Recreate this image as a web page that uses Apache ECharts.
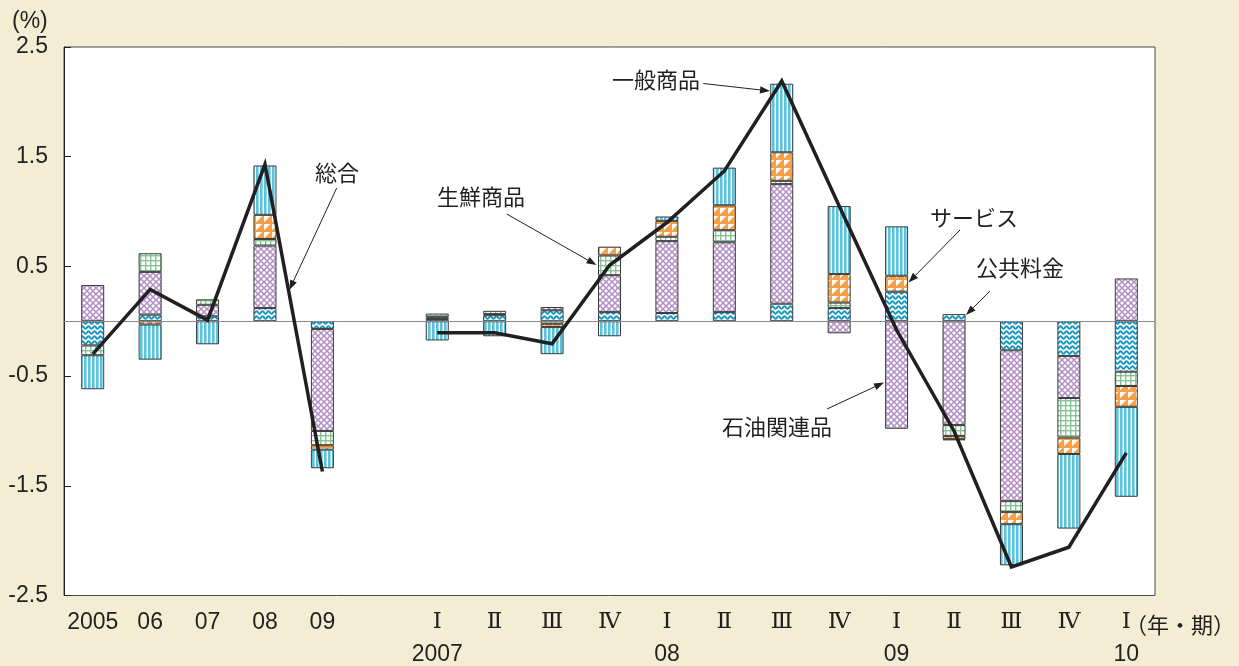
<!DOCTYPE html>
<html>
<head>
<meta charset="utf-8">
<script src="https://cdn.jsdelivr.net/npm/echarts@6/dist/echarts.min.js"></script>
<style>
  html, body { margin: 0; padding: 0; background: #f3edd3; }
  #chart { width: 1239px; height: 666px; }
</style>
</head>
<body>
<div id="chart"></div>
<script>
// Categories: annual (2005-09), a spacer, then quarters 2007 I - 2010 I
const categories = ['2005', '06', '07', '08', '09', '',
  'Ⅰ\n2007', 'Ⅱ', 'Ⅲ', 'Ⅳ', 'Ⅰ\n08', 'Ⅱ', 'Ⅲ', 'Ⅳ', 'Ⅰ\n09', 'Ⅱ', 'Ⅲ', 'Ⅳ', 'Ⅰ\n10'];

// Contributions (% points), stacked outward from zero in this order
const utilities = [-0.22, 0.06, 0.045, 0.12, -0.07, null,
  0.02, 0.055, 0.10, 0.083, 0.075, 0.083, 0.16, 0.12, 0.27, 0.065, -0.265, -0.316, -0.46];     // 公共料金
const petroleum = [0.33, 0.39, 0.105, 0.57, -0.93, null,
  0.02, 0.01, 0.03, 0.337, 0.655, 0.637, 1.09, -0.11, -0.98, -0.945, -1.375, -0.384, 0.39];     // 石油関連品
const fresh = [-0.09, 0.17, 0.05, 0.06, -0.13, null,
  0.03, 0.03, -0.023, 0.18, 0.04, 0.11, 0.03, 0.05, 0, -0.10, -0.10, -0.36, -0.13];            // 生鮮商品
const services = [0, -0.03, 0, 0.22, -0.04, null,
  0, 0, -0.03, 0.08, 0.145, 0.227, 0.26, 0.26, 0.145, -0.03, -0.11, -0.15, -0.19];             // サービス
const goods = [-0.31, -0.32, -0.21, 0.45, -0.17, null,
  -0.175, -0.137, -0.247, -0.137, 0.04, 0.343, 0.625, 0.62, 0.45, -0.01, -0.375, -0.68, -0.82]; // 一般商品
// 総合 (total), drawn as a line
const total = [-0.30, 0.29, 0.01, 1.43, -1.37, null,
  -0.105, -0.105, -0.205, 0.51, 0.90, 1.37, 2.19, 1.05, -0.08, -1.0, -2.24, -2.06, -1.20];

const yTicks = [-2.5, -1.5, -0.5, 0.5, 1.5, 2.5];

const INK = '#231f20';

// --- fill patterns -------------------------------------------------------
function tile(w, h, draw) {
  const c = document.createElement('canvas');
  c.width = w; c.height = h;
  const g = c.getContext('2d');
  g.fillStyle = '#ffffff';
  g.fillRect(0, 0, w, h);
  draw(g, w, h);
  return { image: c, repeat: 'repeat' };
}
const wavyFill = tile(6, 5, (g) => {
  g.strokeStyle = '#1798c3'; g.lineWidth = 2;
  g.beginPath();
  for (let x = -1; x <= 7; x += 0.5) {
    const y = 2.5 + 1.3 * Math.sin((x / 6) * Math.PI * 2);
    if (x === -1) g.moveTo(x, y); else g.lineTo(x, y);
  }
  g.stroke();
});
const latticeFill = tile(6, 6, (g) => {
  g.strokeStyle = '#b28ec5'; g.lineWidth = 1.5;
  g.beginPath();
  g.moveTo(-1, -1); g.lineTo(7, 7);
  g.moveTo(7, -1); g.lineTo(-1, 7);
  g.stroke();
});
const gridFill = tile(5, 5, (g) => {
  g.fillStyle = '#86c296';
  g.fillRect(0, 0, 5, 1.4);
  g.fillRect(0, 0, 1.4, 5);
});
const triangleFill = tile(8, 8, (g) => {
  g.fillStyle = '#f6a14a';
  g.fillRect(0, 0, 8, 8);
  g.fillStyle = '#ffffff';
  g.beginPath();
  g.moveTo(0, 0); g.lineTo(6.3, 0); g.lineTo(0, 6.3); g.closePath();
  g.fill();
});
const stripeFill = tile(4, 4, (g) => {
  g.fillStyle = '#5dc3dd';
  g.fillRect(0, 0, 2.6, 4);
});

function barSeries(name, values, fill, extra) {
  return Object.assign({
    name,
    type: 'bar',
    stack: 'cpi',
    barWidth: 23,
    data: values.map(v => (v === null || v === 0) ? '-' : v),
    itemStyle: { color: fill, borderColor: '#3a3a3a', borderWidth: 1 },
    emphasis: { disabled: true },
    silent: true
  }, extra || {});
}

const chart = echarts.init(document.getElementById('chart'), null, { renderer: 'canvas' });

// annotation text + arrow
function arrow(x1, y1, x2, y2) {
  const dx = x2 - x1, dy = y2 - y1;
  const len = Math.hypot(dx, dy);
  const ux = dx / len, uy = dy / len;
  const hl = 10, hw = 3.6;
  const bx = x2 - ux * hl, by = y2 - uy * hl;
  return [
    { type: 'line', silent: true, shape: { x1, y1, x2: bx, y2: by }, style: { stroke: INK, lineWidth: 1 } },
    { type: 'polygon', silent: true,
      shape: { points: [[x2, y2], [bx - uy * hw, by + ux * hw], [bx + uy * hw, by - ux * hw]] },
      style: { fill: INK } }
  ];
}
function label(text, x, y, size, family) {
  return { type: 'text', x, y, silent: true,
    style: { text, fill: INK, font: (size || 22) + 'px ' + (family || '"Noto Sans CJK JP"'),
      verticalAlign: 'middle', align: 'left' } };
}

const graphics = [
  label('(%)', 12, 22, 23, '"Liberation Sans"'),
  label('（年・期）', 1125, 625, 22),
  label('総合', 315, 173),
  label('生鮮商品', 437, 197),
  label('一般商品', 612, 80),
  label('サービス', 930, 218),
  label('公共料金', 976, 268),
  label('石油関連品', 722, 427),
  ...arrow(336.7, 188, 289.3, 290),
  ...arrow(506.7, 214, 596.5, 265),
  ...arrow(703.3, 83.5, 770, 91),
  ...arrow(960, 230, 908.5, 282.5),
  ...arrow(990, 291, 966, 315),
  ...arrow(827, 409, 884, 382.5)
];

const romanRe = /^[ⅠⅡⅢⅣ]$/;

chart.setOption({
  animation: false,
  backgroundColor: '#f3edd3',
  grid: {
    left: 64, right: 84, top: 47, bottom: 68,
    show: true, backgroundColor: '#ffffff', borderColor: '#4a4a4a', borderWidth: 1
  },
  xAxis: {
    type: 'category',
    data: categories,
    axisLine: { show: false },
    axisTick: { show: false },
    axisLabel: {
      interval: 0,
      margin: 11,
      color: INK,
      formatter: (v) => {
        const parts = v.split('\n');
        let s = romanRe.test(parts[0]) ? '{r|' + parts[0] + '}' : '{n|' + parts[0] + '}';
        if (parts[1]) s += '\n{n|' + parts[1] + '}';
        return s;
      },
      rich: {
        n: { fontFamily: 'Liberation Sans', fontSize: 23, lineHeight: 32, color: INK },
        r: { fontFamily: 'DejaVu Serif', fontSize: 23, lineHeight: 32, color: INK }
      }
    }
  },
  yAxis: {
    type: 'value',
    min: yTicks[0],
    max: yTicks[yTicks.length - 1],
    interval: yTicks[1] - yTicks[0],
    axisLine: { show: true, lineStyle: { color: INK, width: 1 } },
    axisTick: { show: true, inside: true, length: 7, lineStyle: { color: INK } },
    splitLine: { show: false },
    axisLabel: {
      color: INK, fontSize: 23, fontFamily: 'Liberation Sans', margin: 16,
      formatter: (v) => v.toFixed(1)
    }
  },
  series: [
    barSeries('公共料金', utilities, wavyFill, {
      markLine: {
        silent: true, symbol: 'none', label: { show: false },
        lineStyle: { color: '#8a8a8a', width: 1, type: 'solid' },
        data: [{ yAxis: 0 }]
      }
    }),
    barSeries('石油関連品', petroleum, latticeFill),
    barSeries('生鮮商品', fresh, gridFill),
    barSeries('サービス', services, triangleFill),
    barSeries('一般商品', goods, stripeFill),
    {
      name: '総合',
      type: 'line',
      data: total.map(v => v === null ? '-' : v),
      symbol: 'none',
      connectNulls: false,
      silent: true,
      z: 10,
      lineStyle: { color: INK, width: 3.5, join: 'miter' }
    }
  ],
  graphic: graphics
});
</script>
</body>
</html>
